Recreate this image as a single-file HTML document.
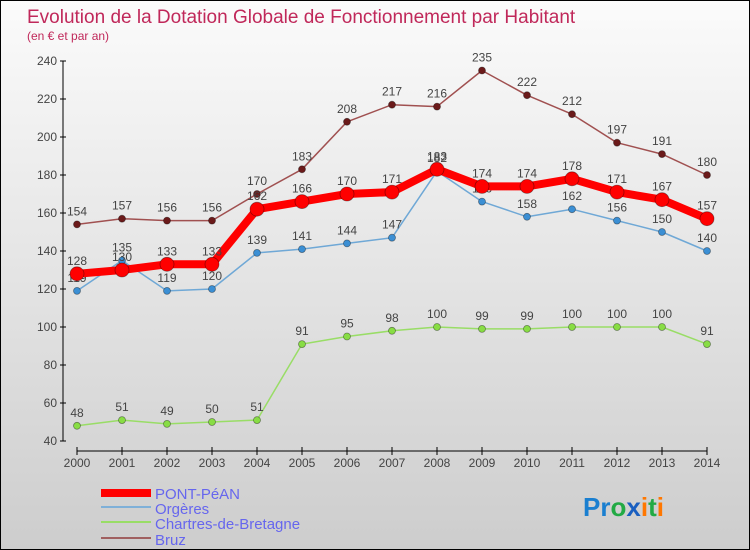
<!DOCTYPE html>
<html><head><meta charset="utf-8"><style>
body{margin:0}
#c{width:748px;height:548px;border:1px solid #000;background:linear-gradient(#fbfbfb,#cdcdcd);position:relative;overflow:hidden;font-family:"Liberation Sans",sans-serif}
</style></head><body>
<div id="c">
<svg id="s" width="748" height="548" style="position:absolute;left:0;top:0">
<text x="26" y="22" font-size="19" fill="#c0285a">Evolution de la Dotation Globale de Fonctionnement par Habitant</text>
<text x="26" y="39" font-size="12" fill="#c0285a">(en € et par an)</text>
<g id="axes"></g><g id="series"></g>
<g>
<rect x="100" y="488" width="50" height="8" fill="#ff0000"/>
<text x="154" y="498" font-size="15" fill="#6666ee">PONT-PéAN</text>
<line x1="100" y1="506" x2="150" y2="506" stroke="#7fb0d8" stroke-width="2"/>
<text x="154" y="513" font-size="15" fill="#6666ee">Orgères</text>
<line x1="100" y1="521" x2="150" y2="521" stroke="#99dd66" stroke-width="2"/>
<text x="154" y="528" font-size="15" fill="#6666ee">Chartres-de-Bretagne</text>
<line x1="100" y1="537" x2="150" y2="537" stroke="#a06060" stroke-width="2"/>
<text x="154" y="544" font-size="15" fill="#6666ee">Bruz</text>
</g>
<text x="582" y="515" font-size="26" font-weight="bold"><tspan fill="#1a7fd0">Pr</tspan><tspan fill="#22aa44">o</tspan><tspan fill="#1a5fc0">x</tspan><tspan fill="#ff7700">i</tspan><tspan fill="#22aa44">t</tspan><tspan fill="#ff7700">i</tspan></text>
</svg>
</div>
<script>
const years=[2000,2001,2002,2003,2004,2005,2006,2007,2008,2009,2010,2011,2012,2013,2014];
const yTicks=[40,60,80,100,120,140,160,180,200,220,240];
const pont=[128,130,133,133,162,166,170,171,183,174,174,178,171,167,157];
const orgeres=[119,135,119,120,139,141,144,147,182,166,158,162,156,150,140];
const chartres=[48,51,49,50,51,91,95,98,100,99,99,100,100,100,91];
const bruz=[154,157,156,156,170,183,208,217,216,235,222,212,197,191,180];
const NS="http://www.w3.org/2000/svg";
const X=i=>76+i*45, Y=v=>440-(v-40)*1.9;
function mk(t,a,p){const e=document.createElementNS(NS,t);for(const k in a)e.setAttribute(k,a[k]);p.appendChild(e);return e;}
const ax=document.getElementById('axes'), sg=document.getElementById('series');
let e=mk('line',{x1:62,y1:Y(240),x2:62,y2:Y(40),stroke:'#000'},ax);


e=mk('line',{x1:76,y1:450,x2:706,y2:450,stroke:'#000'},ax);


yTicks.forEach(v=>{
 mk('line',{x1:59,y1:Y(v),x2:65,y2:Y(v),stroke:'#000'},ax);
 const t=mk('text',{x:56,y:Y(v)+4,'font-size':12,fill:'#444','text-anchor':'end'},ax);t.textContent=v;
 
 
});
years.forEach((y,i)=>{
 mk('line',{x1:X(i),y1:446,x2:X(i),y2:454,stroke:'#000'},ax);
 const t=mk('text',{x:X(i),y:466,'font-size':12,fill:'#444','text-anchor':'middle'},ax);t.textContent=y;
 
 
});
function series(data,name,lc,lw,mc,r){
 const g=mk('g',{},sg);
 
 
 const p=mk('polyline',{points:data.map((v,i)=>X(i)+','+Y(v)).join(' '),fill:'none',stroke:lc,'stroke-width':lw,'stroke-linejoin':'round'},g);
 
 
 data.forEach((v,i)=>{
  const c=mk('circle',{cx:X(i),cy:Y(v),r:r,fill:mc,stroke:'rgba(0,0,0,0.4)','stroke-width':0.8},g);
  
  
  const t=mk('text',{x:X(i),y:Y(v)-9,'font-size':12,fill:'#444','text-anchor':'middle'},g);t.textContent=v;
  
  
 });
}
series(chartres,'chartres','#99dd66',1.5,'#88dd44',3.5);
series(bruz,'bruz','#a05050',1.5,'#6b1a1a',3.5);
series(orgeres,'orgeres','#6fa8d6',1.5,'#3b8fd4',3.5);
series(pont,'pont-pean','#ff0000',8,'#ff0000',7);
</script>
</body></html>
